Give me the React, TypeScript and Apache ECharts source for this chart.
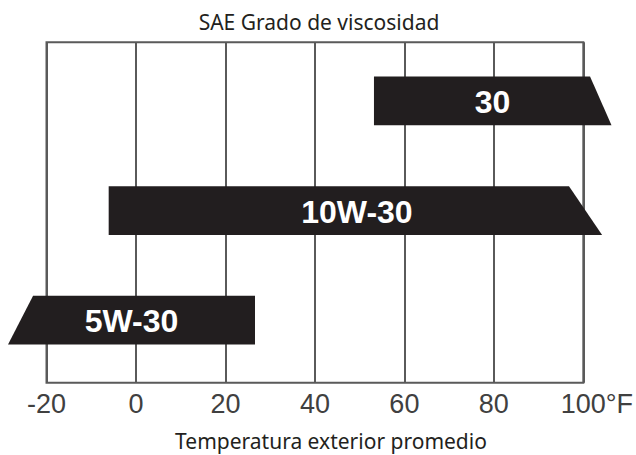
import React, { useEffect, useRef } from 'react';
import * as echarts from 'echarts';

const grades = ['30', '10W-30', '5W-30'];
const rows = [3, 2, 1];
const leftTop = [53.2, -6.1, -23.0];
const leftBottom = [53.2, -6.1, -28.6];
const rightTop = [101.5, 96.8, 26.6];
const rightBottom = [106.3, 104.2, 26.6];
const labelAt = [79.7, 49.4, -1.0];
const tickValues = [-20, 0, 20, 40, 60, 80, 100];
const tickLabels = ['-20', '0', '20', '40', '60', '80', '100°F'];
const chartTitle = 'SAE Grado de viscosidad';
const axisTitle = 'Temperatura exterior promedio';

export default function App() {
  const ref = useRef<HTMLDivElement>(null);
  useEffect(() => {
    if (!ref.current) return;
    const chart = echarts.init(ref.current, null, { renderer: 'svg' });
    const data = grades.map((g, i) => [leftTop[i], leftBottom[i], rightTop[i], rightBottom[i], rows[i], labelAt[i]]);
    chart.setOption({
      animation: false,
      backgroundColor: '#ffffff',
      title: [
        {
          text: chartTitle,
          left: 319,
          top: 11,
          textAlign: 'center',
          padding: 0,
          textStyle: { fontFamily: '"Noto Sans", sans-serif', fontSize: 21, lineHeight: 21, fontWeight: 'normal', color: '#231f20' },
        },
        {
          text: axisTitle,
          left: 331,
          top: 430,
          textAlign: 'center',
          padding: 0,
          textStyle: { fontFamily: '"Noto Sans", sans-serif', fontSize: 21, lineHeight: 21, fontWeight: 'normal', color: '#231f20' },
        },
      ],
      grid: {
        left: 46.5,
        right: 636 - 584.3,
        top: 42.3,
        bottom: 455 - 382.7,
        show: true,
        borderColor: '#5a5a5a',
        borderWidth: 2,
        backgroundColor: 'transparent',
      },
      xAxis: {
        type: 'value',
        min: -20,
        max: 100,
        interval: 20,
        axisLine: { show: false },
        axisTick: { show: false },
        splitLine: { show: true, lineStyle: { color: '#5a5a5a', width: 2 } },
        axisLabel: {
          margin: 8,
          color: '#404040',
          fontFamily: '"Liberation Sans", Arial, sans-serif',
          fontSize: 27,
          formatter: (v: number) => {
            const i = tickValues.indexOf(v);
            const t = i >= 0 ? tickLabels[i] : '';
            return i === tickLabels.length - 1 ? '{p|}' + t : t;
          },
          rich: { p: { width: 27 } },
        },
      },
      yAxis: {
        type: 'value',
        min: 0.43,
        max: 3.535,
        show: false,
        splitLine: { show: false },
      },
      series: [
        {
          type: 'custom',
          clip: false,
          data,
          encode: { x: [0, 1, 2, 3, 5], y: 4 },
          renderItem: (params: any, api: any) => {
            const row = api.value(4);
            const half = 0.222;
            const p1 = api.coord([api.value(0), row + half]);
            const p2 = api.coord([api.value(2), row + half]);
            const p3 = api.coord([api.value(3), row - half]);
            const p4 = api.coord([api.value(1), row - half]);
            const lbl = api.coord([api.value(5), row]);
            return {
              type: 'group',
              children: [
                { type: 'polygon', shape: { points: [p1, p2, p3, p4] }, style: { fill: '#221e1f' } },
                {
                  type: 'text',
                  x: lbl[0],
                  y: lbl[1] + 1,
                  style: {
                    text: grades[params.dataIndex],
                    fill: '#ffffff',
                    fontFamily: '"Liberation Sans", Arial, sans-serif',
                    fontWeight: 'bold',
                    fontSize: 32,
                    align: 'center',
                    verticalAlign: 'middle',
                  },
                },
              ],
            };
          },
        },
      ],
    });
    return () => chart.dispose();
  }, []);
  return <div ref={ref} style={{ position: 'fixed', left: 0, top: 0, width: 636, height: 455 }} />;
}
